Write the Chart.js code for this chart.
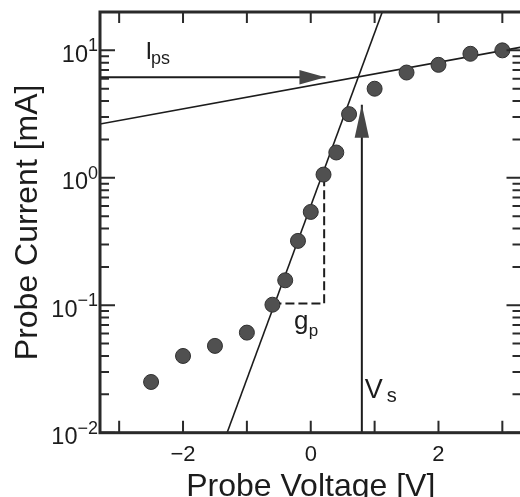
<!DOCTYPE html>
<html>
<head>
<meta charset="utf-8">
<script src="https://cdn.jsdelivr.net/npm/chart.js@4"></script>
<style>
  html, body { margin: 0; padding: 0; background: #fff; overflow: hidden; }
  #wrap { width: 520px; height: 497px; overflow: hidden; }
</style>
</head>
<body>
<div id="wrap"><canvas id="probeChart" width="530" height="497"></canvas></div>
<script>
// measured probe characteristic
var voltage = [-2.5, -2, -1.5, -1, -0.6, -0.4, -0.2, 0, 0.2, 0.4, 0.6, 1, 1.5, 2, 2.5, 3];
var current = [0.025, 0.040, 0.048, 0.061, 0.101, 0.157, 0.32, 0.54, 1.06, 1.58, 3.16, 5.0, 6.7, 7.7, 9.4, 10.0];

// tick labels
var xTicks = [-3, -2, -1, 0, 1, 2, 3];
var xTickLabels = ['', '\u22122', '', '0', '', '2', ''];
var yDecades = [0.01, 0.1, 1, 10];
var yDecadeExps = ['\u22122', '\u22121', '0', '1'];

// fit lines and construction marks
var ionFitV = [-1.31, 1.12];
var ionFitI = [0.01, 20];
var satFitV = [-3.3, 3.3];
var satFitI = [2.64, 10.6];
var ipsArrowV = [-3.3, 0.23];
var ipsArrowI = [6.15, 6.15];
var vsArrowV = [0.8, 0.8];
var vsArrowI = [0.01, 3.74];
var gpV = [-0.6, 0.21, 0.21];
var gpI = [0.103, 0.103, 1.06];

// annotation texts (anchor = left / baseline of the main letter)
var notes = [
  { main: 'I', sub: 'ps', v: -2.586, i: 8.56 },
  { main: 'g', sub: 'p', v: -0.261, i: 0.0656 },
  { main: 'V', sub: 's', v: 0.846, i: 0.01858 },
];

var FONT = "'Liberation Sans', Arial, Helvetica, sans-serif";
var INK = '#1c1c1c';

function pairs(xs, ys) {
  var out = [];
  for (var i = 0; i < xs.length; i++) out.push({ x: xs[i], y: ys[i] });
  return out;
}

function lineSet(xs, ys, width, extra) {
  var ds = {
    data: pairs(xs, ys),
    showLine: true,
    borderColor: INK,
    borderWidth: width,
    pointRadius: 0,
    fill: false,
    order: 2,
  };
  for (var k in extra) ds[k] = extra[k];
  return ds;
}

var noteStyle = {
  I: { main: 24, sub: 18, dx: -1.2, dy: 5.4 },
  g: { main: 26, sub: 17, dx: 0.3, dy: 7 },
  V: { main: 27, sub: 20, dx: 4, dy: 3.7 },
};

var framePlugin = {
  id: 'frame',
  afterDatasetsDraw: function (chart) {
    var ctx = chart.ctx;
    ctx.save();
    ctx.fillStyle = '#474747';
    chart.data.datasets.forEach(function (ds, i) {
      if (!ds.arrowHead) return;
      var pts = chart.getDatasetMeta(i).data;
      var tip = pts[pts.length - 1], prev = pts[pts.length - 2];
      var ang = Math.atan2(tip.y - prev.y, tip.x - prev.x);
      var L = ds.arrowHead.length, W = ds.arrowHead.width;
      ctx.beginPath();
      ctx.moveTo(tip.x, tip.y);
      ctx.lineTo(tip.x - L * Math.cos(ang) + W * Math.sin(ang), tip.y - L * Math.sin(ang) - W * Math.cos(ang));
      ctx.lineTo(tip.x - L * Math.cos(ang) - W * Math.sin(ang), tip.y - L * Math.sin(ang) + W * Math.cos(ang));
      ctx.closePath();
      ctx.fill();
    });

    // subscripted labels
    var xs = chart.scales.x, ys = chart.scales.y;
    ctx.fillStyle = INK;
    ctx.textBaseline = 'alphabetic';
    ctx.textAlign = 'left';
    notes.forEach(function (n) {
      var st = noteStyle[n.main];
      var px = xs.getPixelForValue(n.v), py = ys.getPixelForValue(n.i);
      ctx.font = st.main + 'px ' + FONT;
      ctx.fillText(n.main, px, py);
      var w = ctx.measureText(n.main).width;
      ctx.font = st.sub + 'px ' + FONT;
      ctx.fillText(n.sub, px + w + st.dx, py + st.dy);
    });
    ctx.restore();
  },
  afterDraw: function (chart) {
    var ctx = chart.ctx, a = chart.chartArea;
    var xs = chart.scales.x, ys = chart.scales.y;
    ctx.save();
    ctx.strokeStyle = '#2a2a2a';
    ctx.lineWidth = 2;
    ctx.beginPath();
    xTicks.forEach(function (v) {
      var px = xs.getPixelForValue(v);
      ctx.moveTo(px, a.bottom); ctx.lineTo(px, a.bottom - 12);
      ctx.moveTo(px, a.top); ctx.lineTo(px, a.top + 11);
    });
    yDecades.forEach(function (d) {
      for (var k = 1; k <= 9; k++) {
        var val = d * k;
        if (val > ys.max + 1e-9) break;
        var py = ys.getPixelForValue(val);
        var len = k === 1 ? 15 : 9;
        ctx.moveTo(a.left, py); ctx.lineTo(a.left + len, py);
        ctx.moveTo(a.right, py); ctx.lineTo(a.right - len, py);
      }
    });
    ctx.stroke();

    ctx.lineWidth = 3;
    ctx.strokeRect(a.left, a.top, a.right - a.left, a.bottom - a.top);

    // decade labels 10^n
    ctx.fillStyle = INK;
    ctx.textAlign = 'left';
    ctx.textBaseline = 'alphabetic';
    yDecades.forEach(function (d, i) {
      var py = ys.getPixelForValue(d);
      ctx.font = '18px ' + FONT;
      var sw = ctx.measureText(yDecadeExps[i]).width;
      ctx.font = '23.5px ' + FONT;
      var mw = ctx.measureText('10').width;
      var right = 98;
      ctx.fillText('10', right - sw - mw, py + 11.5);
      ctx.font = '18px ' + FONT;
      ctx.fillText(yDecadeExps[i], right - sw, py + 1);
    });
    ctx.restore();
  },
};

Chart.defaults.font.family = FONT;
Chart.defaults.color = INK;

new Chart(document.getElementById('probeChart'), {
  type: 'scatter',
  data: {
    datasets: [
      {
        data: pairs(voltage, current),
        pointRadius: 7.5,
        pointBackgroundColor: '#505050',
        pointBorderColor: '#303030',
        pointBorderWidth: 1,
        order: 0,
      },
      lineSet(ionFitV, ionFitI, 1.6, {}),
      lineSet(satFitV, satFitI, 1.6, {}),
      lineSet(ipsArrowV, ipsArrowI, 2, { arrowHead: { length: 26, width: 7.3 } }),
      lineSet(vsArrowV, vsArrowI, 2, { arrowHead: { length: 33, width: 7.2 } }),
      lineSet(gpV, gpI, 2, { borderDash: [9, 4] }),
    ],
  },
  options: {
    responsive: false,
    animation: false,
    devicePixelRatio: 1,
    layout: { padding: { top: 12, right: 5, left: 0, bottom: 0 } },
    plugins: { legend: { display: false }, tooltip: { enabled: false } },
    scales: {
      x: {
        type: 'linear',
        min: -3.3,
        max: 3.3,
        grid: { display: false, drawTicks: false },
        border: { display: false },
        afterBuildTicks: function (s) {
          s.ticks = xTicks.map(function (v) { return { value: v }; });
        },
        afterFit: function (s) { s.height = 64.3; },
        ticks: {
          autoSkip: false,
          maxRotation: 0,
          padding: 9,
          font: { size: 22 },
          color: INK,
          callback: function (v) {
            var idx = xTicks.indexOf(v);
            return idx >= 0 ? xTickLabels[idx] : '';
          },
        },
        title: {
          display: true,
          text: 'Probe Voltage [V]',
          font: { size: 32 },
          color: INK,
          padding: { top: 0, bottom: -9 },
        },
      },
      y: {
        type: 'logarithmic',
        min: 0.01,
        max: 20,
        grid: { display: false, drawTicks: false },
        border: { display: false },
        ticks: { display: false },
        afterFit: function (s) { s.width = 100; },
        title: {
          display: true,
          text: 'Probe Current [mA]',
          font: { size: 32 },
          color: INK,
          padding: { top: 9, bottom: 0 },
        },
      },
    },
  },
  plugins: [framePlugin],
});
</script>
</body>
</html>
